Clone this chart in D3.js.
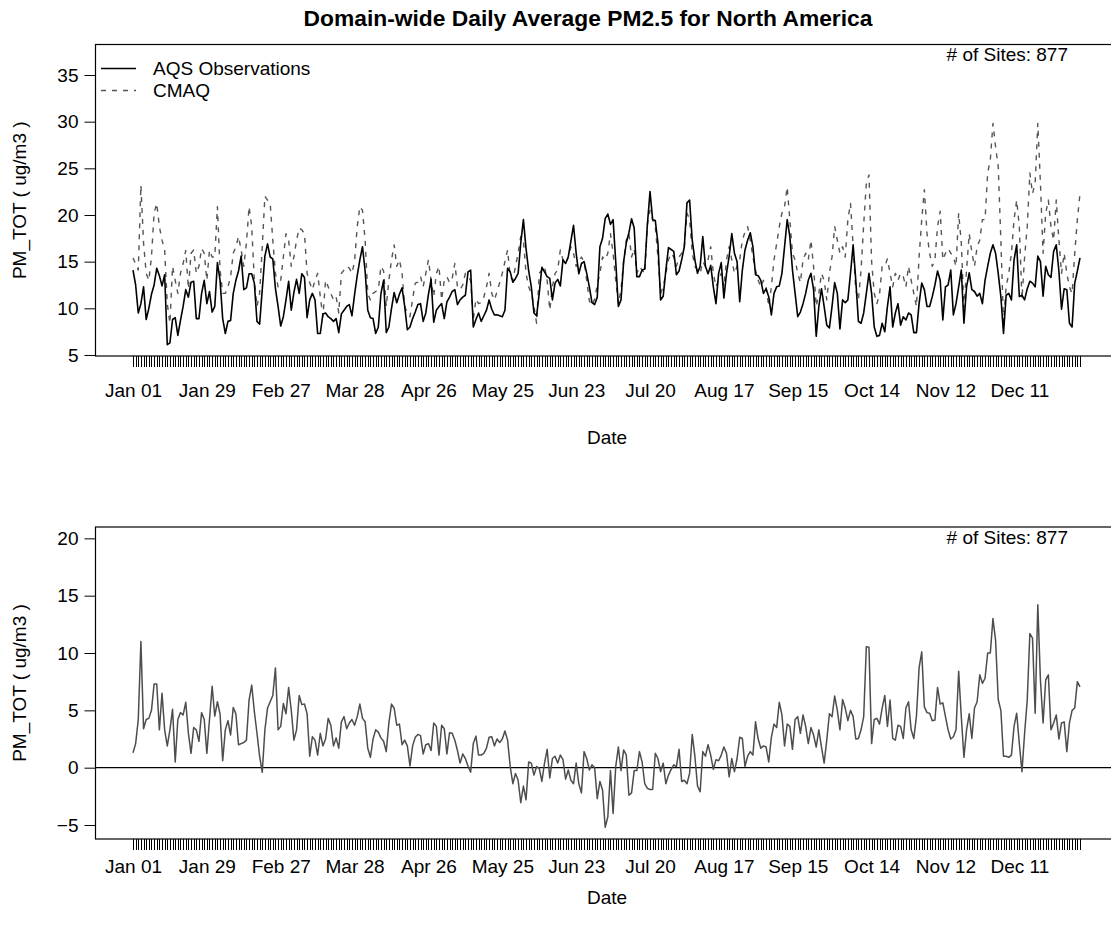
<!DOCTYPE html>
<html><head><meta charset="utf-8">
<script src="https://cdn.jsdelivr.net/npm/d3@7"></script>
<style>
body{margin:0;background:#fff;}
</style></head><body>
<svg id="chart" width="1111" height="932"></svg>
<script>
const tickLabels = ["Jan 01","Jan 29","Feb 27","Mar 28","Apr 26","May 25","Jun 23","Jul 20","Aug 17","Sep 15","Oct 14","Nov 12","Dec 11"];
const tickIndex = [0,28,56,84,112,140,168,196,224,252,280,308,336];
const topTicks = [5,10,15,20,25,30,35];
const bottomTicks = [-5,0,5,10,15,20];
const seriesNames = ["AQS Observations","CMAQ"];
const sitesLabel = "# of Sites: 877";

const obs = [
14.1,12.5,9.5,10.5,12.3,8.8,10.0,11.5,12.5,14.3,
13.5,12.4,13.6,6.1,6.3,8.8,9.0,7.1,8.7,10.2,
12.0,11.2,12.8,12.9,8.9,8.9,11.6,13.0,10.5,11.8,
9.6,10.2,14.9,13.0,8.9,7.3,8.6,8.7,11.6,13.0,
14.0,15.6,12.0,12.2,13.7,13.7,12.7,8.6,8.3,12.0,
15.6,16.9,15.5,15.3,12.1,10.2,8.1,9.1,10.9,12.9,
9.8,11.7,13.1,11.6,13.7,13.3,9.0,10.9,11.6,10.9,
7.3,7.3,9.4,9.5,9.1,8.9,8.6,8.9,7.4,9.4,
9.8,10.2,10.4,9.2,11.5,13.5,15.2,16.6,14.0,9.8,
9.0,8.9,7.3,8.0,11.6,13.0,7.4,8.0,10.0,11.7,
10.6,11.5,12.2,10.2,7.7,8.0,8.9,9.6,10.4,10.5,
8.6,9.5,11.5,13.1,8.5,9.8,10.2,10.5,8.9,10.7,
11.2,11.8,12.0,10.4,10.9,11.2,11.4,13.9,14.1,8.0,
8.8,9.5,8.6,9.2,9.8,10.9,9.9,9.3,9.3,9.2,
9.1,9.8,14.3,13.9,12.8,13.2,13.75,17.0,19.5,16.4,
14.0,12.3,9.5,9.2,11.6,14.4,13.9,13.4,13.2,10.9,
12.7,13.1,12.4,15.2,14.8,15.5,17.2,18.9,15.9,13.7,
14.8,15.0,13.75,12.3,10.6,10.4,11.2,16.6,17.5,19.6,
20.1,19.0,19.5,15.0,10.2,10.9,15.0,17.0,18.1,19.6,
18.6,13.4,13.4,14.1,14.2,19.0,22.5,19.5,19.4,17.0,
10.9,11.3,14.1,16.5,16.3,16.1,13.6,14.0,15.2,16.6,
21.3,21.6,17.3,15.2,13.75,14.5,17.7,14.5,13.7,14.6,
12.3,10.5,13.75,14.9,11.1,13.75,15.6,18.0,15.9,15.0,
10.7,14.1,16.25,17.3,18.1,16.6,13.6,13.5,13.0,11.6,
12.1,11.25,9.3,11.6,12.3,12.4,13.75,16.6,19.5,17.7,
14.1,11.6,9.1,9.6,10.5,11.6,13.0,13.75,12.0,7.0,
10.2,12.1,10.2,8.2,7.9,10.2,12.75,11.6,7.8,10.9,
10.6,10.9,13.75,16.8,13.0,8.6,8.4,9.5,11.6,13.75,
11.6,8.0,7.0,7.1,8.4,7.5,10.2,12.3,8.0,9.5,
10.5,8.2,9.1,8.75,9.5,9.3,7.4,7.4,10.5,12.7,
12.0,10.2,10.2,11.25,12.5,14.0,13.0,8.75,12.3,12.5,
14.1,9.3,10.5,12.3,14.1,8.4,12.3,13.8,12.0,11.8,
11.3,11.6,10.5,13.0,14.5,15.9,16.8,15.9,13.75,11.25,
7.3,11.4,11.6,10.9,15.2,16.8,11.25,11.4,10.9,12.1,
12.9,12.7,12.3,15.6,15.0,11.3,14.5,13.6,13.3,16.1,
16.8,14.0,9.9,12.1,12.0,8.4,8.0,12.7,14.0,15.4
];

const cmaq = [
15.4,14.75,14.1,23.2,17.0,13.75,13.0,15.5,20.2,21.25,
18.75,17.3,16.25,10.5,8.4,14.5,13.0,11.6,13.75,14.8,
16.2,12.1,15.9,16.25,13.75,14.5,16.4,15.9,13.0,16.25,
15.5,15.5,20.9,14.1,11.6,11.6,12.3,13.4,15.9,16.6,
17.7,16.25,14.5,17.0,20.9,18.75,13.0,10.2,11.6,16.6,
22.0,21.6,21.25,17.3,13.75,12.3,13.0,15.5,18.0,17.3,
14.5,15.5,17.3,18.6,18.4,18.0,13.75,12.75,12.0,13.0,
13.75,11.25,9.1,13.0,12.3,11.6,10.9,11.25,9.5,13.75,
14.1,14.5,14.3,13.75,15.0,18.75,20.9,20.5,17.3,11.6,
10.9,11.6,11.8,12.0,14.5,14.0,10.2,13.0,15.2,16.8,
14.5,15.2,13.75,10.2,9.5,9.1,11.0,12.7,12.8,13.4,
12.3,13.75,15.2,13.0,11.25,13.75,14.5,10.9,13.0,13.4,
12.75,13.2,14.8,12.3,12.0,12.5,13.75,13.4,13.0,8.75,
11.0,10.5,10.6,11.2,12.3,13.75,11.6,10.9,11.8,12.75,
13.75,15.0,16.25,13.4,13.0,14.5,15.9,17.7,17.3,13.75,
12.3,11.6,10.2,8.4,13.75,14.1,14.5,13.0,9.8,12.3,
13.75,14.1,16.25,15.2,14.8,15.5,16.6,15.9,14.5,15.0,
15.5,15.0,13.0,10.8,10.3,11.0,12.5,13.75,15.5,15.2,
15.9,18.0,15.9,13.0,10.5,12.0,15.0,17.3,18.0,15.5,
16.4,13.75,14.5,14.1,13.75,19.0,20.5,19.5,18.75,15.5,
11.6,12.3,13.75,15.2,15.9,15.5,14.5,15.5,15.9,16.6,
20.2,19.5,15.9,14.5,14.1,13.75,15.0,14.5,15.2,16.6,
13.75,12.3,13.0,13.75,12.3,15.2,16.6,15.2,13.75,14.5,
15.2,17.3,18.2,18.75,17.3,15.5,14.1,13.0,12.3,13.0,
12.3,10.2,12.3,15.2,16.9,18.75,20.2,20.9,23.0,19.5,
15.9,15.2,13.75,12.75,15.2,15.9,15.2,17.3,14.5,10.2,
11.6,13.75,13.0,10.9,13.75,15.5,18.75,17.3,15.9,16.6,
15.5,19.5,21.25,16.6,12.0,10.9,14.1,19.0,23.4,24.3,
15.0,11.6,10.5,11.5,14.5,14.5,15.3,13.75,12.3,13.75,
13.0,13.75,13.4,12.3,14.5,13.0,11.6,10.2,15.5,19.5,
22.7,18.0,15.9,14.5,15.2,18.75,20.4,15.2,15.9,16.4,
15.9,15.5,14.5,20.2,17.0,10.0,14.1,18.0,16.0,14.5,
16.6,17.3,19.5,19.5,24.5,25.9,29.8,27.3,25.2,17.3,
8.5,12.3,13.75,15.9,19.5,21.6,18.75,11.0,15.5,18.75,
24.5,22.3,23.4,29.8,23.4,15.9,20.2,21.6,18.75,17.3,
21.6,17.3,13.75,15.9,13.75,12.3,11.6,15.9,19.5,22.3
];

const bias = [
1.3,2.1,4.2,11.0,3.4,4.2,4.3,5.0,7.3,7.3,
3.3,6.5,3.3,1.9,3.3,5.1,0.5,4.2,4.8,4.6,
5.7,3.0,1.25,3.5,3.3,2.3,4.8,4.2,1.25,4.2,
7.1,4.5,5.75,4.7,0.6,3.3,4.1,2.85,5.25,4.7,
2.0,2.1,2.2,2.4,5.9,7.2,4.9,3.0,1.0,-0.4,
3.3,5.2,5.75,6.3,8.7,3.3,3.6,5.6,4.7,7.0,
5.0,2.4,3.3,6.3,5.5,5.55,4.7,1.0,2.7,2.4,
1.1,3.0,1.9,2.5,4.3,3.7,1.9,2.6,1.7,4.0,
4.45,3.4,3.9,4.2,3.7,4.45,5.55,4.3,4.0,1.7,
0.9,2.5,3.3,3.1,2.6,2.3,1.4,3.9,5.55,5.2,
3.7,3.8,2.0,2.4,1.9,0.15,1.9,2.65,2.9,2.8,
1.2,2.0,2.1,1.5,3.9,3.6,1.1,3.7,3.4,1.2,
3.05,3.0,2.4,1.5,0.4,1.2,0.8,0.15,-0.4,2.1,
2.75,1.1,1.1,1.25,1.7,2.65,2.7,1.9,2.5,2.2,
2.5,3.2,2.4,0.1,-1.4,-0.5,-1.1,-3.05,-1.6,-2.8,
0.5,0.4,-0.65,0.1,-0.05,-1.2,0.4,1.6,-0.9,0.8,
1.0,0.4,1.1,0.7,-1.0,-0.2,-1.1,-1.4,0.4,-1.4,
-2.2,1.4,0.8,-0.2,0.25,0.0,-2.7,-1.2,-1.95,-5.2,
-4.3,-0.25,-4.0,0.1,1.8,-0.25,1.55,1.1,-2.4,-2.2,
-0.25,-0.25,1.4,0.5,-1.4,-1.8,-1.9,-1.9,1.25,0.8,
-0.35,0.4,-1.4,-0.65,-0.15,0.25,0.1,1.6,-1.2,-1.1,
-1.4,-0.5,2.9,1.0,-1.6,-2.1,1.4,1.0,2.0,1.1,
-0.15,0.7,0.6,1.1,1.8,1.25,-0.8,0.8,-0.35,0.8,
2.65,2.55,0.1,1.0,1.4,1.1,4.0,2.5,1.7,1.9,
1.8,0.5,2.65,3.8,3.5,5.7,4.6,1.9,3.8,3.6,
1.6,4.2,4.45,3.0,4.6,3.6,2.1,3.5,2.85,1.8,
3.3,1.8,0.4,2.4,4.7,4.45,6.25,5.0,3.3,5.95,
5.2,4.1,5.0,4.45,2.5,2.55,3.3,4.45,10.55,10.5,
2.1,4.2,4.3,3.8,5.2,6.3,3.6,5.9,2.55,2.4,
3.7,3.6,2.55,5.2,5.75,3.3,2.55,4.5,8.7,10.1,
5.3,4.8,4.75,4.1,4.15,7.0,5.55,5.65,4.45,3.3,
2.5,2.7,3.3,8.4,4.45,0.9,3.3,4.7,2.55,5.2,
5.75,8.1,7.35,7.8,10.0,10.0,13.0,11.1,5.95,5.0,
1.0,1.0,0.9,1.1,3.6,4.75,2.1,-0.35,3.0,5.9,
11.7,11.3,4.75,14.2,7.65,3.9,7.65,8.1,3.3,3.9,
4.6,2.5,3.9,4.0,1.4,3.9,5.0,5.2,7.5,7.05
];

const FONT = '"Liberation Sans", Arial, Helvetica, sans-serif';
const FS = 19;
const svg = d3.select("#chart");
svg.append("rect").attr("width",1111).attr("height",932).attr("fill","#fff");

const n = obs.length;
const idx = d3.range(n);
const x = d3.scaleLinear().domain([0, n - 1]).range([133, 1080]);
const boxL = 95.5, boxR = 1118;

svg.append("text").attr("x", 588).attr("y", 26).attr("text-anchor","middle")
  .attr("font-family", FONT).attr("font-size", 22.8).attr("font-weight","bold")
  .text("Domain-wide Daily Average PM2.5 for North America");

function panel(o){
  const y = d3.scaleLinear().domain(o.domain).range([o.bottom, o.top]);
  const g = svg.append("g");
  // y axis
  const ya = g.append("g").attr("transform", `translate(${boxL},0)`)
    .call(d3.axisLeft(y).tickValues(o.ticks).tickSize(11).tickPadding(6).tickFormat(d3.format("d")));
  ya.select(".domain").remove();
  ya.attr("font-family", FONT).attr("font-size", FS);
  ya.selectAll("line").attr("stroke","#000");
  ya.selectAll("text").attr("fill","#000");
  // x axis (one tick per day)
  const xa = g.append("g").attr("transform", `translate(0,${o.bottom})`)
    .call(d3.axisBottom(x).tickValues(idx).tickSize(11).tickPadding(o.labelPad)
      .tickFormat(i => { const k = tickIndex.indexOf(i); return k >= 0 ? tickLabels[k] : ""; }));
  xa.select(".domain").remove();
  xa.attr("font-family", FONT).attr("font-size", FS);
  xa.selectAll("line").attr("stroke","#000").attr("stroke-width",1).attr("shape-rendering","crispEdges");
  xa.selectAll("text").attr("fill","#000");
  // zero line
  if (o.zero) {
    g.append("line").attr("x1", boxL).attr("x2", boxR).attr("y1", y(0)).attr("y2", y(0))
      .attr("stroke","#000").attr("stroke-width",1.2);
  }
  // series
  o.series.forEach(s => {
    g.append("path").datum(s.values)
      .attr("fill","none").attr("stroke", s.color).attr("stroke-width", s.width)
      .attr("stroke-dasharray", s.dash || null).attr("stroke-linejoin","round")
      .attr("d", d3.line().x((d,i) => x(i)).y(d => y(d)));
  });
  // box
  g.append("rect").attr("x", boxL).attr("y", o.top).attr("width", boxR - boxL).attr("height", o.bottom - o.top)
    .attr("fill","none").attr("stroke","#000").attr("stroke-width",1.2);
  // sites label
  g.append("text").attr("x", 1068).attr("y", o.top + 16.5).attr("text-anchor","end")
    .attr("font-family", FONT).attr("font-size", FS).text(sitesLabel);
  // axis titles
  g.append("text").attr("x", 607).attr("y", o.bottom + o.titlePad).attr("text-anchor","middle")
    .attr("font-family", FONT).attr("font-size", FS).text("Date");
  g.append("text").attr("transform", `translate(26,${(o.top + o.bottom)/2}) rotate(-90)`)
    .attr("text-anchor","middle").attr("font-family", FONT).attr("font-size", FS).text("PM_TOT ( ug/m3 )");
  return {g, y};
}

const topP = panel({
  top: 44.5, bottom: 356, domain: [4.89, 38.27], ticks: topTicks, labelPad: 17, titlePad: 88,
  series: [
    {values: cmaq, color: "#555", width: 1.4, dash: "5,6"},
    {values: obs, color: "#000", width: 1.6}
  ]
});

// legend
const leg = topP.g.append("g");
[{y: 68.5, dash: null, color: "#000", w: 1.6}, {y: 90.5, dash: "5,6", color: "#555", w: 1.4}].forEach((l, i) => {
  leg.append("line").attr("x1", 101).attr("x2", 136).attr("y1", l.y).attr("y2", l.y)
    .attr("stroke", l.color).attr("stroke-width", l.w).attr("stroke-dasharray", l.dash);
  leg.append("text").attr("x", 153).attr("y", l.y + 6.8).attr("font-family", FONT).attr("font-size", FS)
    .text(seriesNames[i]);
});

panel({
  top: 527, bottom: 839, domain: [-6.22, 20.99], ticks: bottomTicks, zero: true, labelPad: 10, titlePad: 65,
  series: [
    {values: bias, color: "#4d4d4d", width: 1.5}
  ]
});
</script>
</body></html>
